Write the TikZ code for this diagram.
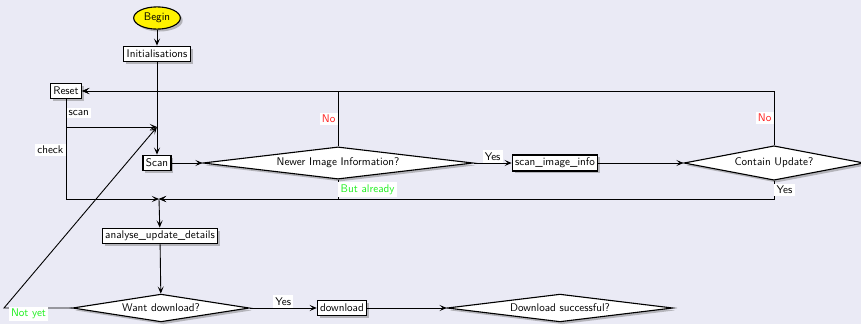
\documentclass[tikz,border=0pt]{standalone}
\usepackage{tikz}
\usepackage{xcolor}
\usetikzlibrary{arrows.meta,shapes.geometric,shadows,positioning}
\definecolor{slidebg}{RGB}{234,234,245}
\definecolor{noRed}{RGB}{255,30,30}
\definecolor{okGreen}{RGB}{30,240,30}

\begin{document}
\begin{tikzpicture}[
  x=0.9pt, y=-0.9pt,
  font=\sffamily,
  >={Stealth[length=6.5pt,width=5.5pt,inset=3pt]},
  start/.style={ellipse, draw, line width=1pt, fill=yellow, drop shadow,
    inner sep=1pt, minimum width=42pt, minimum height=20pt},
  proc/.style={rectangle, draw, line width=1pt, fill=white, drop shadow,
    inner sep=2.6pt, minimum height=14pt},
  decide/.style={diamond, draw, line width=1pt, fill=white, drop shadow,
    aspect=8, inner sep=0pt},
  flow/.style={->, line width=0.8pt},
  tag/.style={fill=white, inner sep=2pt}
]
\useasboundingbox (0,0) rectangle (861,324);
\fill[slidebg] (0,0) rectangle (861,324);
% ── Nodes ────────────────────────────────────────
\node[start] (begin) at (157,18) {Begin};
\node[proc] (init) at (157,54) {Initialisations};
\node[proc] (reset) at (66,91) {Reset};
\node[proc] (scan) at (157,163) {Scan};
\node[decide, minimum width=243pt, minimum height=29pt] (newer) at (338,163)
  {Newer Image Information?};
\node[proc] (info) at (555,163) {scan\_image\_info};
\node[decide, minimum width=162pt, minimum height=31pt] (contain) at (774,163)
  {Contain Update?};
\node[proc] (analyse) at (160,236) {analyse\_update\_details};
\node[decide, minimum width=159pt, minimum height=25pt] (want) at (161,308)
  {Want download?};
\node[proc] (download) at (342,308) {download};
\node[decide, minimum width=203pt, minimum height=25pt] (success) at (560,308)
  {Download successful?};
\coordinate (mergeA) at (157,127);
\coordinate (mergeB) at (159,199);
\coordinate (notyet) at (4,308);
% ── Main flow ────────────────────────────────────
\draw[flow] (begin) -- (init);
\draw[flow] (init) -- (scan);
\draw[flow] (scan) -- (newer);
\draw[flow] (newer) -- (info) node[tag, midway, above] {Yes};
\draw[flow] (info) -- (contain);
\draw[flow] (mergeB) -- (analyse);
\draw[flow] (analyse) -- (want);
\draw[flow] (want) -- (download) node[tag, midway, above] {Yes};
\draw[flow] (download) -- (success);
% ── Loops back ───────────────────────────────────
\draw[flow] (newer.north) |- (reset.east)
  node[tag, pos=0.25, left, text=noRed] {No};
\draw[flow] (contain.north) |- (reset.east)
  node[tag, pos=0.25, left, text=noRed] {No};
\draw[flow] (newer.south) |- (mergeB)
  node[tag, pos=0.25, right, text=okGreen] {But already};
\draw[flow] (contain.south) |- (mergeB)
  node[tag, pos=0.25, right] {Yes};
\draw[flow] (reset.south) |- (mergeA) node[tag, pos=0.25, right] {scan};
\draw[flow] (reset.south) |- (mergeB) node[tag, pos=0.255, left] {check};
\draw[flow] (want.west) -- (notyet)
  node[tag, pos=0.64, below=-1.5pt, text=okGreen] {Not yet} -- (mergeA);
\end{tikzpicture}
\end{document}
